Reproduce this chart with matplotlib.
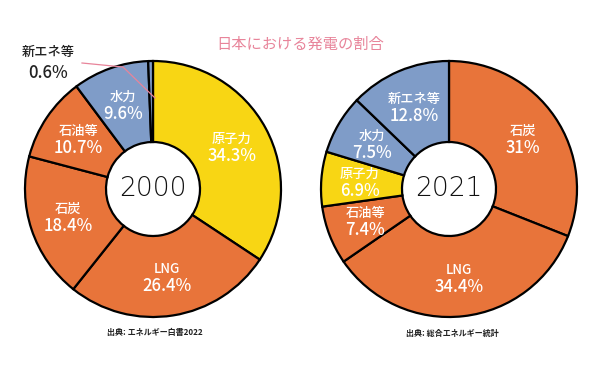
import numpy as np
import matplotlib
matplotlib.use("Agg")
import matplotlib.pyplot as plt

plt.rcParams['font.family'] = ['Noto Sans CJK JP', 'DejaVu Sans']

# data
labels_2000 = ["原子力", "LNG", "石炭", "石油等", "水力", "新エネ等"]
values_2000 = [34.3, 26.4, 18.4, 10.7, 9.6, 0.6]
labels_2021 = ["石炭", "LNG", "石油等", "原子力", "水力", "新エネ等"]
values_2021 = [31.0, 34.4, 7.4, 6.9, 7.5, 12.8]
pct_2021 = ["31%", "34.4%", "7.4%", "6.9%", "7.5%", "12.8%"]

ORANGE = "#E8743A"
YELLOW = "#F8D614"
BLUE = "#7F9CC8"
PINK = "#E8849A"
color_map = {"原子力": YELLOW, "LNG": ORANGE, "石炭": ORANGE, "石油等": ORANGE,
             "水力": BLUE, "新エネ等": BLUE}

fig = plt.figure(figsize=(6, 3.71), dpi=100)
ax = fig.add_axes([0, 0, 1, 1])

R = 128
R_IN = 47


def donut(center, labels, values, pcts, year, skip_small=None):
    cols = [color_map[l] for l in labels]
    wedges, _ = ax.pie(values, colors=cols, startangle=90, counterclock=False,
                       center=center, radius=R,
                       wedgeprops=dict(width=R - R_IN, edgecolor="black", linewidth=1.6))
    for w, lab, pc in zip(wedges, labels, pcts):
        if lab == skip_small:
            continue
        ang = np.deg2rad((w.theta1 + w.theta2) / 2)
        r = 0.70 * R
        x = center[0] + r * np.cos(ang)
        y = center[1] + r * np.sin(ang)
        ax.text(x, y + 8, lab, color="white", fontsize=9.5, ha="center", va="center",
                fontweight="medium")
        ax.text(x, y - 9, pc, color="white", fontsize=12, ha="center", va="center",
                fontweight="medium")
    ax.text(center[0], center[1], year, fontsize=19, ha="center", va="center",
            color="#111111", fontfamily="DejaVu Sans", fontweight="light")


pct_2000 = [f"{v}%" for v in values_2000]
donut((153, 182), labels_2000, values_2000, pct_2000, "2000", skip_small="新エネ等")
donut((449, 182), labels_2021, values_2021, pct_2021, "2021")

# outside label for the tiny slice
ax.text(48, 319, "新エネ等", fontsize=9.5, ha="center", va="center", color="#222222",
        fontweight="medium")
ax.text(48, 298, "0.6%", fontsize=12, ha="center", va="center", color="#222222",
        fontweight="medium")
ax.plot([82, 123, 155], [308, 304, 273], color=PINK, linewidth=0.9)

ax.text(300, 327, "日本における発電の割合", fontsize=11, ha="center", va="center", color=PINK)
ax.text(107, 38, "出典: エネルギー白書2022", fontsize=5.8, ha="left", va="center",
        color="#222222", fontweight="bold")
ax.text(406, 38, "出典: 総合エネルギー統計", fontsize=5.8, ha="left", va="center",
        color="#222222", fontweight="bold")

ax.set_xlim(0, 600)
ax.set_ylim(0, 371)
ax.set_aspect("auto")
ax.axis("off")

fig.savefig("out.png", dpi=100)
